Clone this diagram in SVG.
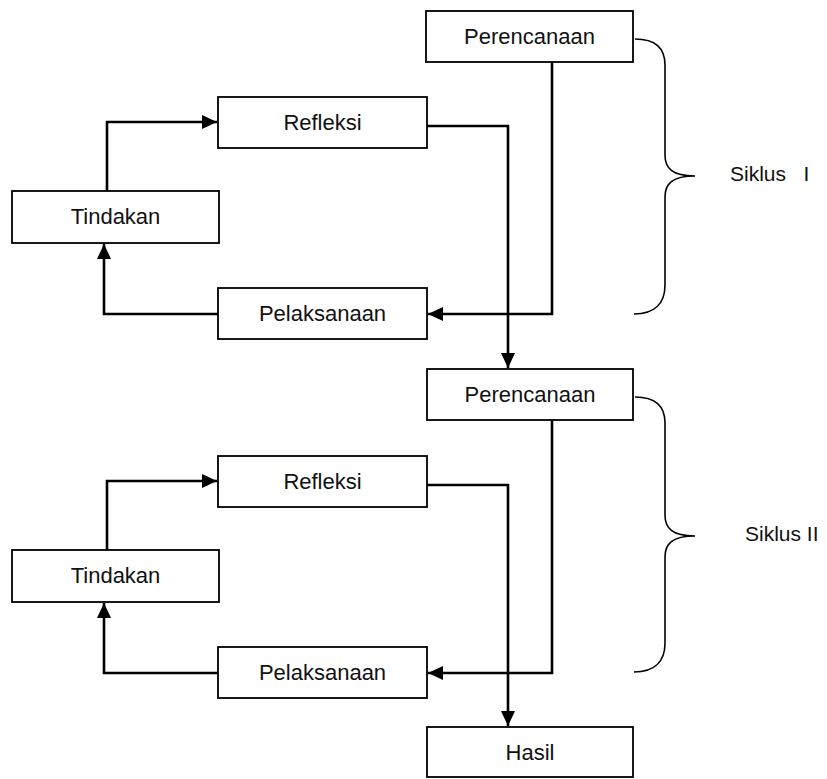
<svg xmlns="http://www.w3.org/2000/svg" width="827" height="779" viewBox="0 0 827 779">
<defs>
<marker id="arr" markerUnits="userSpaceOnUse" markerWidth="16" markerHeight="14" refX="15" refY="7" orient="auto">
<path d="M0,0 L15,7 L0,14 Z" fill="#000"/>
</marker>
<style>
.box{fill:#fff;stroke:#000;stroke-width:1.8}
.lbl{font-family:"Liberation Sans",Arial,sans-serif;font-size:22px;fill:#111;text-anchor:middle}
.con{fill:none;stroke:#000;stroke-width:2.6}
.brace{fill:none;stroke:#000;stroke-width:1.6}
.cyc{font-family:"Liberation Sans",Arial,sans-serif;font-size:21px;fill:#111}
</style>
</defs>
<rect width="827" height="779" fill="#fff"/>
<g id="connectors">
<path class="con" d="M552,62 V314 H428" marker-end="url(#arr)"/>
<path class="con" d="M218,314 H104 V244" marker-end="url(#arr)"/>
<path class="con" d="M107,191 V122 H217" marker-end="url(#arr)"/>
<path class="con" d="M427,126 H508 V368" marker-end="url(#arr)"/>
<path class="con" d="M552,420 V673 H428" marker-end="url(#arr)"/>
<path class="con" d="M218,673 H104 V603" marker-end="url(#arr)"/>
<path class="con" d="M107,550 V481 H217" marker-end="url(#arr)"/>
<path class="con" d="M427,485 H508 V726" marker-end="url(#arr)"/>
</g>
<g id="perencanaan1"><rect class="box" x="426" y="11" width="207" height="51"/><text class="lbl" x="529.5" y="44">Perencanaan</text></g>
<g id="refleksi1"><rect class="box" x="218" y="97" width="209" height="51"/><text class="lbl" x="322.5" y="130">Refleksi</text></g>
<g id="tindakan1"><rect class="box" x="12" y="191" width="207" height="52"/><text class="lbl" x="115.5" y="224">Tindakan</text></g>
<g id="pelaksanaan1"><rect class="box" x="218" y="288" width="209" height="51"/><text class="lbl" x="322.5" y="321">Pelaksanaan</text></g>
<g id="perencanaan2"><rect class="box" x="427" y="369" width="206" height="51"/><text class="lbl" x="530" y="402">Perencanaan</text></g>
<g id="refleksi2"><rect class="box" x="218" y="456" width="209" height="51"/><text class="lbl" x="322.5" y="489">Refleksi</text></g>
<g id="tindakan2"><rect class="box" x="12" y="550" width="207" height="52"/><text class="lbl" x="115.5" y="583">Tindakan</text></g>
<g id="pelaksanaan2"><rect class="box" x="218" y="647" width="209" height="51"/><text class="lbl" x="322.5" y="680">Pelaksanaan</text></g>
<g id="hasil"><rect class="box" x="427" y="727" width="206" height="50"/><text class="lbl" x="530" y="760">Hasil</text></g>
<g id="siklus1">
<path class="brace" d="M635,39 C655,39 665,47 665,65 V155 C665,168 672,176 695,176 C672,176 665,184 665,197 V285 C665,303 655,314 634,314"/>
<text class="cyc" x="730" y="181" xml:space="preserve">Siklus   I</text>
</g>
<g id="siklus2">
<path class="brace" d="M635,397 C655,397 665,405 665,423 V515 C665,528 672,536 695,536 C672,536 665,544 665,557 V643 C665,661 655,672 634,672"/>
<text class="cyc" x="745" y="541">Siklus II</text>
</g>
</svg>
